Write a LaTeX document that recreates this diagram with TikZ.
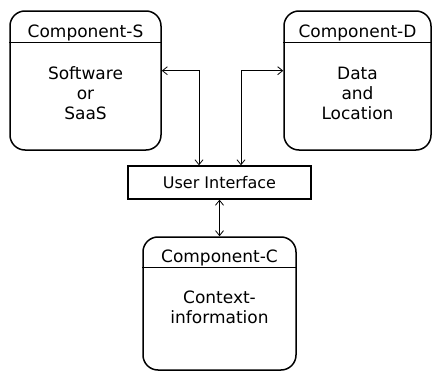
\documentclass[tikz,border=0pt]{standalone}
\usepackage{fontspec}
\setmainfont{DejaVu Sans}
\usetikzlibrary{arrows.meta}
\begin{document}
\begin{tikzpicture}[x=1pt,y=-1pt,
  comp/.style={draw, line width=1.5pt, rounded corners=15pt, inner sep=0pt},
  uibox/.style={draw, line width=1.3pt, inner sep=0pt},
  divider/.style={line width=1.3pt},
  hdr/.style={font=\fontsize{17}{20}\selectfont, anchor=base, inner sep=0pt},
  body/.style={font=\fontsize{17}{20}\selectfont, align=center, anchor=base, inner sep=0pt},
  arr/.style={line width=0.8pt, {Straight Barb[length=5pt,width=8pt]}-{Straight Barb[length=5pt,width=8pt]}}
]
\useasboundingbox (0,0) rectangle (432,372);

% Component-S
\node[comp, minimum width=151pt, minimum height=139pt] (S) at (85.5,80.5) {};
\draw[divider] ([yshift=-32pt]S.north west) -- ([yshift=-32pt]S.north east);
\node[hdr] (Sh) at (85.5,37.5) {Component-S};
\node[body] (Sb) at (85.5,119) {Software\\or\\SaaS};

% Component-D
\node[comp, minimum width=147pt, minimum height=139pt] (D) at (357.5,80.5) {};
\draw[divider] ([yshift=-32pt]D.north west) -- ([yshift=-32pt]D.north east);
\node[hdr] (Dh) at (357.5,37.5) {Component-D};
\node[body] (Db) at (357.5,119) {Data\\and\\Location};

% User Interface
\node[uibox, minimum width=183pt, minimum height=33pt, font=\fontsize{16}{19}\selectfont] (UI) at (219.5,182.5) {User Interface};

% Component-C
\node[comp, minimum width=153pt, minimum height=133pt] (C) at (219.5,303.5) {};
\draw[divider] ([yshift=-31pt]C.north west) -- ([yshift=-31pt]C.north east);
\node[hdr] (Ch) at (219.5,262) {Component-C};
\node[body] (Cb) at (219.5,323.3) {Context-\\information};

% connectors
\coordinate (bs) at (199,70.7);
\coordinate (bd) at (241,70.7);
\draw[arr] (bs -| S.east) -- (bs) -- (bs |- UI.north);
\draw[arr] (bd -| D.west) -- (bd) -- (bd |- UI.north);
\draw[arr] (UI.south) -- (C.north);
\end{tikzpicture}
\end{document}
